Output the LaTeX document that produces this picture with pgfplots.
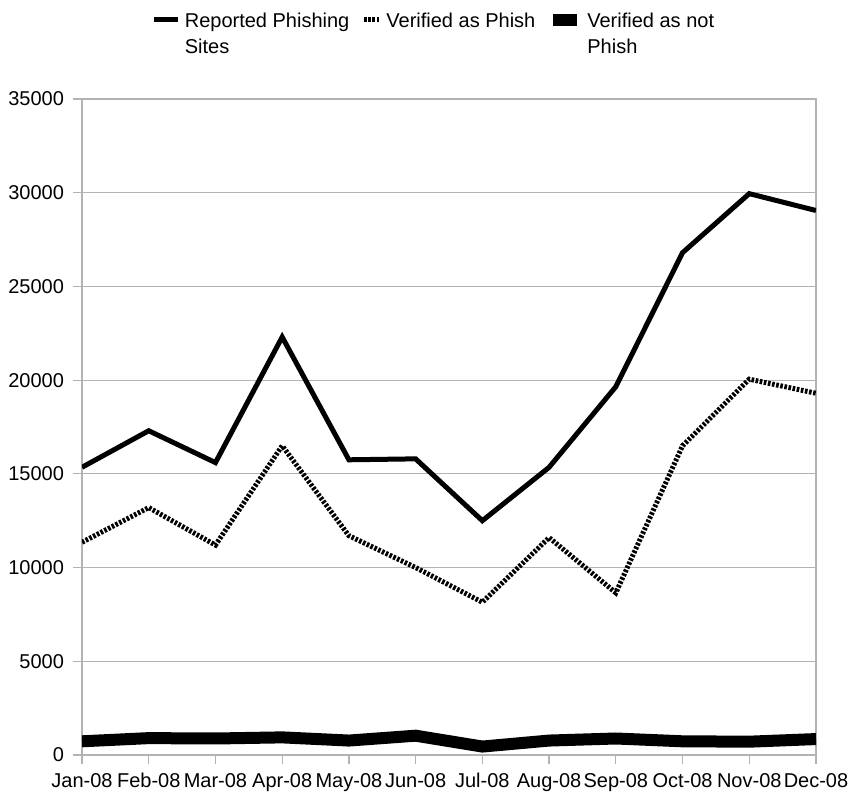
\documentclass[border=0pt]{standalone}
\usepackage{fontspec}
\setmainfont{Liberation Sans}
\usepackage{pgfplots}
\pgfplotsset{compat=1.18}

\definecolor{gridgray}{HTML}{B3B3B3}

\pgfplotsset{
    longlegend/.style={legend image code/.code={\draw[##1] (0pt,0pt) -- (12pt,0pt);}},
    shortlegend/.style={legend image code/.code={\draw[##1] (4pt,0pt) -- (12pt,0pt);}},
}

\begin{document}
\begin{tikzpicture}
\begin{axis}[
    scale only axis,
    width=367pt, height=328pt,
    xmin=0, xmax=11,
    ymin=0, ymax=35000,
    xtick={0,...,11},
    xticklabels={Jan-08,Feb-08,Mar-08,Apr-08,May-08,Jun-08,Jul-08,Aug-08,Sep-08,Oct-08,Nov-08,Dec-08},
    ytick={0,5000,...,35000},
    scaled y ticks=false,
    /pgf/number format/fixed,
    /pgf/number format/1000 sep={},
    /pgf/number format/assume math mode=true,
    ymajorgrids,
    grid style={gridgray, line width=0.6pt},
    axis line style={gridgray, line width=0.6pt},
    tick style={gridgray, line width=0.6pt},
    tick align=outside,
    major tick length=4.5pt,
    xtick pos=bottom, ytick pos=left,
    xticklabel style={yshift=-1pt},
    yticklabel style={xshift=-1pt},
    tick label style={font=\fontsize{10}{12}\selectfont},
    legend columns=3,
    legend style={
        at={(0.5,1)}, anchor=south, yshift=30pt, xshift=-7pt,
        draw=none, fill=none,
        font=\fontsize{10}{13}\selectfont,
        /tikz/every even column/.append style={column sep=4pt},
    },
    longlegend,
]
% Reported phishing sites
\addplot[black, line width=2.5pt] coordinates {
    (0,15350) (1,17300) (2,15600) (3,22300) (4,15750) (5,15800)
    (6,12500) (7,15350) (8,19650) (9,26800) (10,29950) (11,29050)
};
\addlegendentry{\begin{tabular}[t]{@{}l@{}}Reported Phishing\\Sites\end{tabular}}
% Verified as phish
\addplot[black, line width=2.5pt, dash pattern=on 1.3pt off 0.8pt, shortlegend] coordinates {
    (0,11350) (1,13200) (2,11200) (3,16500) (4,11700) (5,10000)
    (6,8150) (7,11600) (8,8650) (9,16500) (10,20050) (11,19300)
};
\addlegendentry{\begin{tabular}[t]{@{}l@{}}Verified as Phish\end{tabular}}
% Verified as not phish
\addplot[black, line width=6pt] coordinates {
    (0,730) (1,900) (2,880) (3,940) (4,770) (5,1030)
    (6,450) (7,770) (8,880) (9,730) (10,710) (11,850)
};
\addlegendentry{\begin{tabular}[t]{@{}l@{}}Verified as not\\Phish\end{tabular}}
\end{axis}
\pgfresetboundingbox
\useasboundingbox (-41pt,-21pt) rectangle (385.5pt,377.5pt);
\end{tikzpicture}
\end{document}
